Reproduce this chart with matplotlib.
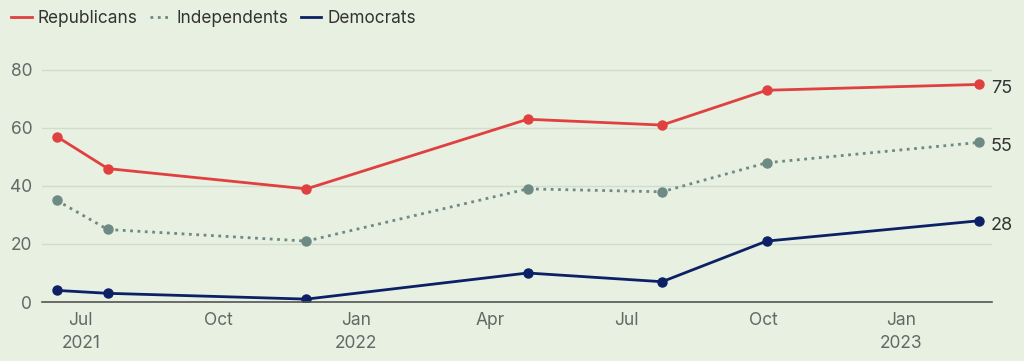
import matplotlib
matplotlib.use('Agg')
import matplotlib.pyplot as plt
import pandas as pd

dates = ['2021-06-15', '2021-07-19', '2021-11-29', '2022-04-26',
         '2022-07-25', '2022-10-03', '2023-02-22']
republicans = [57, 46, 39, 63, 61, 73, 75]
independents = [35, 25, 21, 39, 38, 48, 55]
democrats = [4, 3, 1, 10, 7, 21, 28]

tick_dates = ['2021-07-01', '2021-10-01', '2022-01-01', '2022-04-01',
              '2022-07-01', '2022-10-01', '2023-01-01']
tick_labels = ['Jul\n2021', 'Oct', 'Jan\n2022', 'Apr', 'Jul', 'Oct', 'Jan\n2023']

plt.rcParams['font.family'] = ['Inter', 'DejaVu Sans']

bg = '#e7f0e1'
red = '#e04040'
grey = '#6e8a84'
navy = '#0c2165'

x = pd.to_datetime(dates)

fig = plt.figure(figsize=(10.24, 3.61), dpi=100, facecolor=bg)
ax = fig.add_axes([0.041, 0.1634, 0.928, 0.675])
ax.set_facecolor(bg)

series = [
    ('Republicans', republicans, red, '-'),
    ('Independents', independents, grey, ':'),
    ('Democrats', democrats, navy, '-'),
]
for name, values, color, ls in series:
    ax.plot(x, values, color=color, linestyle=ls, linewidth=2,
            marker='o', markersize=6.5, label=name)
    ax.text(x[-1] + pd.Timedelta(days=8), values[-1] - 1.5, str(values[-1]),
            color='#333333', fontsize=13, va='center', ha='left')

ax.set_ylim(0, 84)
ax.set_yticks([0, 20, 40, 60, 80])
ax.set_xlim(pd.Timestamp('2021-06-05'), pd.Timestamp('2023-03-03'))
ax.set_xticks(pd.to_datetime(tick_dates))
ax.set_xticklabels(tick_labels)

ax.grid(axis='y', color='#d2dccb', linewidth=1)
ax.set_axisbelow(True)
for s in ['top', 'right', 'left']:
    ax.spines[s].set_visible(False)
ax.spines['bottom'].set_color('#555555')
ax.spines['bottom'].set_linewidth(1.2)
ax.tick_params(axis='both', length=0, colors='#666666', labelsize=12.5)
ax.tick_params(axis='x', pad=7)
ax.tick_params(axis='y', pad=7)
for lab in ax.get_xticklabels():
    lab.set_linespacing(1.5)

handles, labels = ax.get_legend_handles_labels()
leg = fig.legend(handles, labels, loc='center left', bbox_to_anchor=(0.011, 0.95),
                 ncol=3, frameon=False, fontsize=12.4, handlelength=1.2,
                 handletextpad=0.35, columnspacing=0.7, borderaxespad=0,
                 borderpad=0)
for h in leg.legend_handles:
    h.set_marker('')
for t in leg.get_texts():
    t.set_color('#333333')

fig.savefig('out.png', dpi=100, facecolor=bg)
